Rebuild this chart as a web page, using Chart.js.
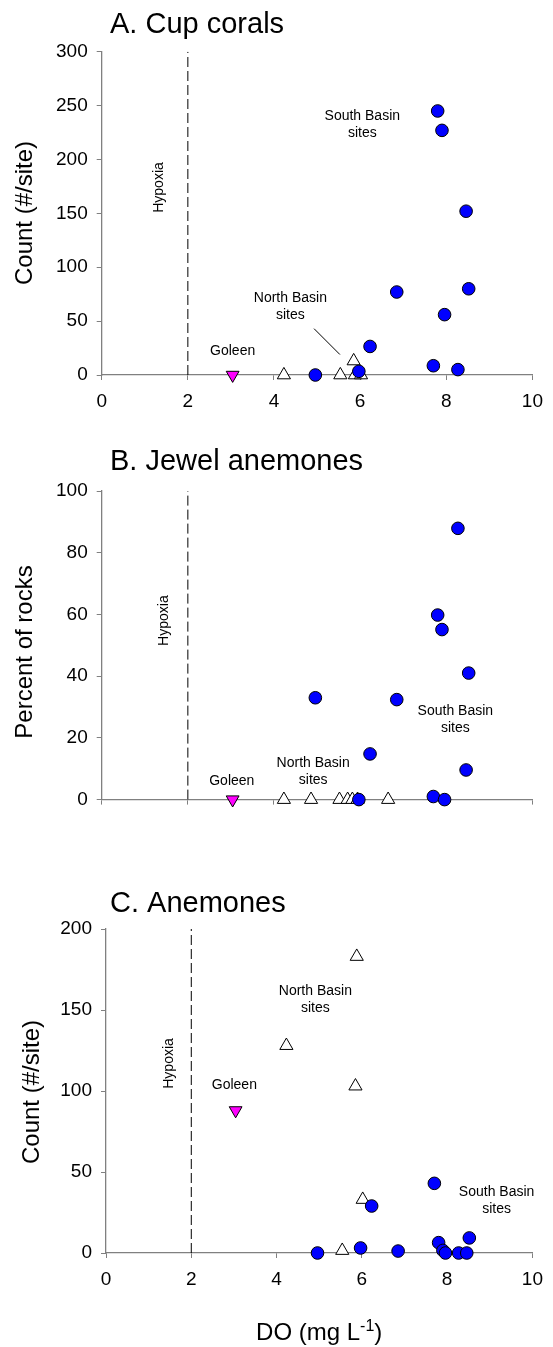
<!DOCTYPE html>
<html><head><meta charset="utf-8">
<script src="https://cdn.jsdelivr.net/npm/chart.js@4/dist/chart.umd.min.js"></script>
<style>
html,body{margin:0;padding:0;background:#fff;}
body{width:553px;height:1347px;position:relative;overflow:hidden;}
canvas{position:absolute;left:0;}
</style></head><body>
<canvas id="cA" width="553" height="440" style="top:0px"></canvas>
<canvas id="cB" width="553" height="380" style="top:440px"></canvas>
<canvas id="cC" width="553" height="527" style="top:820px"></canvas>
<script>
// ---- data ----
const xTicks = [0, 2, 4, 6, 8, 10];
const doSouth = [4.96, 5.97, 6.23, 6.85, 7.70, 7.80, 7.90, 7.96, 8.27, 8.46, 8.52];
const cupSouth = [0, 3.4, 26.5, 77, 8.6, 245, 227, 56, 5, 152, 80];
const jewelSouth = [33, 0, 14.8, 32.4, 1.0, 59.8, 55.1, 0, 87.9, 9.6, 41];
const anemSouth = [0, 3.1, 29, 1.2, 43, 6.4, 1.6, 0, 0, 0, 9.3];

const doNorth = [4.23, 5.54, 5.85, 5.88, 6.02];
const cupNorth = [0, 0, 13, 0, 0];
const anemNorth = [128, 1.5, 103, 183, 33];
const doNorthJewel = [4.23, 4.86, 5.52, 5.71, 5.82, 5.94, 6.65];
const jewelNorth = [0, 0, 0, 0, 0, 0, 0];

const doGoleen = [3.04];
const cupGoleen = [0];
const jewelGoleen = [0];
const anemGoleen = [88];

const hypoxiaDO = 2;

const FONT = "'Liberation Sans', Arial, sans-serif";

const decoPlugin = {
  id: 'deco',
  afterDatasetsDraw(chart, args, o) {
    const ctx = chart.ctx;
    const xs = chart.scales.x, ys = chart.scales.y;
    ctx.save();
    ctx.fillStyle = '#000';
    // panel title
    ctx.font = '29px ' + FONT;
    ctx.textAlign = 'left';
    ctx.textBaseline = 'alphabetic';
    ctx.fillText(o.title, o.titleX, o.titleY);
    // y axis title
    ctx.save();
    ctx.translate(o.yTitleX, o.yTitleY);
    ctx.rotate(-Math.PI / 2);
    ctx.font = '24px ' + FONT;
    ctx.textAlign = 'center';
    ctx.textBaseline = 'middle';
    ctx.fillText(o.yTitle, 0, 0);
    ctx.restore();
    // hypoxia label
    ctx.save();
    ctx.translate(xs.getPixelForValue(o.hypo[0]), ys.getPixelForValue(o.hypo[1]));
    ctx.rotate(-Math.PI / 2);
    ctx.font = '14px ' + FONT;
    ctx.textAlign = 'center';
    ctx.textBaseline = 'middle';
    ctx.fillText('Hypoxia', 0, 0);
    ctx.restore();
    // labels
    ctx.font = '14px ' + FONT;
    ctx.textAlign = 'center';
    ctx.textBaseline = 'middle';
    o.labels.forEach(l => {
      const px = xs.getPixelForValue(l.x), py = ys.getPixelForValue(l.y);
      l.lines.forEach((t, i) => ctx.fillText(t, px, py + i * 17));
    });
    // x axis title
    if (o.xTitle) {
      const cx = (chart.chartArea.left + chart.chartArea.right) / 2;
      const by = o.xTitleY;
      ctx.textBaseline = 'alphabetic';
      ctx.textAlign = 'left';
      const a = 'DO (mg L', c = ')';
      ctx.font = '16px ' + FONT;
      const wb = ctx.measureText('-1').width;
      ctx.font = '24px ' + FONT;
      const wa = ctx.measureText(a).width, wc = ctx.measureText(c).width;
      let x0 = cx - (wa + wb + wc) / 2;
      ctx.fillText(a, x0, by);
      ctx.font = '16px ' + FONT;
      ctx.fillText('-1', x0 + wa, by - 9);
      ctx.font = '24px ' + FONT;
      ctx.fillText(c, x0 + wa + wb, by);
    }
    ctx.restore();
  }
};

function pts(xs, ys) { return xs.map((x, i) => ({ x: x, y: ys[i] })); }

function makeChart(id, H, area, ymax, ystep, south, northX, north, goleen, deco, extra) {
  const datasets = [
    { data: pts(doSouth, south), pointStyle: 'circle', pointRadius: 6.3, backgroundColor: '#0000ff',
      borderColor: '#000', borderWidth: 1, order: 0, clip: false },
    { data: pts(northX, north), pointStyle: 'triangle', pointRadius: 7.6, backgroundColor: '#ffffff',
      borderColor: '#000', borderWidth: 1, order: 1, clip: false },
    { data: pts(doGoleen, goleen), pointStyle: 'triangle', rotation: 180, pointRadius: 7.4, backgroundColor: '#ff00ff',
      borderColor: '#000', borderWidth: 1, order: 2, clip: false },
    { data: [{ x: hypoxiaDO, y: 0 }, { x: hypoxiaDO, y: ymax }], showLine: true, pointRadius: 0,
      borderColor: '#000', borderWidth: 1, borderDash: [10, 4], order: 3 }
  ];
  (extra || []).forEach(d => datasets.push(d));
  return new Chart(document.getElementById(id), {
    type: 'scatter',
    data: { datasets: datasets },
    options: {
      responsive: false, animation: false, devicePixelRatio: 1,
      layout: { padding: { left: 0, top: area.t, right: 553 - area.r, bottom: 0 } },
      plugins: { legend: { display: false }, tooltip: { enabled: false }, deco: deco },
      scales: {
        x: {
          type: 'linear', min: 0, max: 10,
          afterBuildTicks: s => { s.ticks = xTicks.map(v => ({ value: v })); },
          ticks: { color: '#000', font: { size: 19, family: FONT }, padding: 10, maxRotation: 0, autoSkip: false },
          grid: { display: true, drawOnChartArea: false, drawTicks: true, tickLength: 5, color: '#808080', lineWidth: 1 },
          border: { color: '#808080', width: 1.3 },
          afterFit: s => { s.height = H - area.b; }
        },
        y: {
          type: 'linear', min: 0, max: ymax,
          ticks: { stepSize: ystep, color: '#000', font: { size: 19, family: FONT }, padding: 9 },
          grid: { display: true, drawOnChartArea: false, drawTicks: true, tickLength: 5, color: '#808080', lineWidth: 1 },
          border: { color: '#808080', width: 1.3 },
          afterFit: s => { s.width = area.l; }
        }
      }
    },
    plugins: [decoPlugin]
  });
}

makeChart('cA', 440, { l: 101.7, r: 534, t: 51.7, b: 375 }, 300, 50, cupSouth, doNorth, cupNorth, cupGoleen, {
  title: 'A. Cup corals', titleX: 110, titleY: 33,
  yTitle: 'Count (#/site)', yTitleX: 25, yTitleY: 213,
  hypo: [1.34, 174],
  labels: [
    { x: 6.05, y: 240, lines: ['South Basin', 'sites'] },
    { x: 4.38, y: 71.5, lines: ['North Basin', 'sites'] },
    { x: 3.04, y: 22, lines: ['Goleen'] }
  ]
}, [
  { data: [{ x: 4.93, y: 43 }, { x: 5.53, y: 19 }], showLine: true, pointRadius: 0, borderColor: '#000', borderWidth: 1, order: 4 }
]);

makeChart('cB', 380, { l: 101.7, r: 534, t: 51, b: 373.3 }, 100, 20, jewelSouth, doNorthJewel, jewelNorth, jewelGoleen, {
  title: 'B. Jewel anemones', titleX: 110, titleY: 30,
  yTitle: 'Percent of rocks', yTitleX: 25, yTitleY: 212,
  hypo: [1.44, 58],
  labels: [
    { x: 8.21, y: 28.6, lines: ['South Basin', 'sites'] },
    { x: 4.91, y: 11.7, lines: ['North Basin', 'sites'] },
    { x: 3.02, y: 6.0, lines: ['Goleen'] }
  ]
});

makeChart('cC', 527, { l: 106, r: 539, t: 109, b: 433 }, 200, 50, anemSouth, doNorth, anemNorth, anemGoleen, {
  title: 'C. Anemones', titleX: 110, titleY: 92,
  yTitle: 'Count (#/site)', yTitleX: 32, yTitleY: 272,
  hypo: [1.47, 117],
  labels: [
    { x: 4.91, y: 161.7, lines: ['North Basin', 'sites'] },
    { x: 3.01, y: 103.6, lines: ['Goleen'] },
    { x: 9.16, y: 37.3, lines: ['South Basin', 'sites'] }
  ],
  xTitle: true, xTitleY: 520
});
</script>
</body></html>
